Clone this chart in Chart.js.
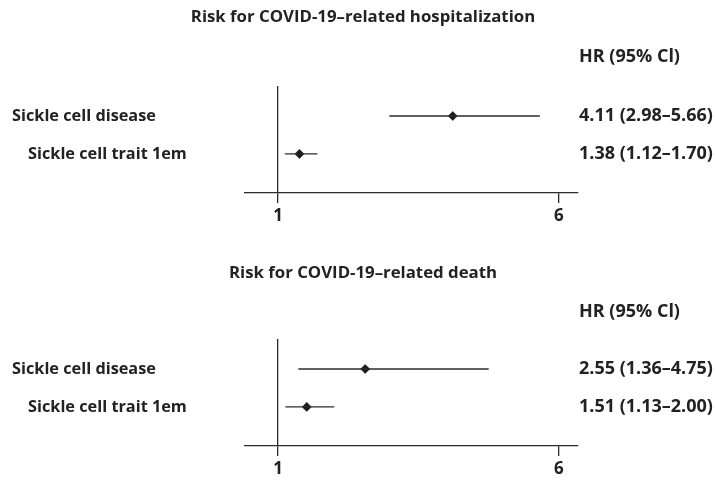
<!DOCTYPE html>
<html>
<head>
<meta charset="utf-8">
<script src="https://cdn.jsdelivr.net/npm/chart.js@4.4.1/dist/chart.umd.min.js"></script>
<style>
  html, body { margin: 0; padding: 0; background: #fff; }
  #wrap { position: relative; width: 715px; height: 480px; }
  .panel { position: absolute; left: 0; width: 715px; height: 227px; }
</style>
</head>
<body>
<div id="wrap">
  <div class="panel" style="top:0"><canvas id="hosp"></canvas></div>
  <div class="panel" style="top:253px"><canvas id="death"></canvas></div>
</div>
<script>
// rows shown in both panels
const rowLabels = ["Sickle cell disease", "Sickle cell trait 1em"];

// hospitalization
const hospHR = [4.11, 1.38];
const hospLow = [2.98, 1.12];
const hospHigh = [5.66, 1.70];

// death
const deathHR = [2.55, 1.51];
const deathLow = [1.36, 1.13];
const deathHigh = [4.75, 2.00];

const xTicks = [1, 6];
const headerText = "HR (95% Cl)";

const INK = "#222";
const LINE = "#2b2b2b";
const FAMILY = "'Open Sans', sans-serif";

Chart.defaults.font.family = FAMILY;
Chart.defaults.color = INK;

/* ===== text round the plot: title, row labels, HR column ===== */
const forestText = {
  id: "forestText",
  afterDraw(chart, args, opts) {
    const { ctx, chartArea, scales } = chart;
    ctx.save();
    ctx.fillStyle = INK;
    ctx.textBaseline = "middle";

    ctx.font = `bold 16.8px ${FAMILY}`;
    ctx.textAlign = "center";
    ctx.fillText(opts.title, 363, opts.titleY);

    ctx.textAlign = "left";
    ctx.font = `bold 18px ${FAMILY}`;
    ctx.fillText(headerText, opts.hrX, chartArea.top - opts.headerGap);
    opts.labels.forEach((lab, i) => {
      const y = scales.y.getPixelForValue(i);
      ctx.font = `bold 16.3px ${FAMILY}`;
      ctx.fillText(lab, opts.labelX[i], y);
      ctx.font = `bold 18px ${FAMILY}`;
      ctx.fillText(opts.hrText[i], opts.hrX, y);
    });
    ctx.restore();
  }
};

function makeForest(id, title, hr, lo, hi, titleY, headerGap) {
  const hrText = hr.map((v, i) => `${v.toFixed(2)} (${lo[i].toFixed(2)}–${hi[i].toFixed(2)})`);

  const ciSets = hr.map((_, i) => ({
    type: "line",
    data: [{ x: lo[i], y: i }, { x: hi[i], y: i }],
    borderColor: LINE,
    borderWidth: 1.3,
    pointRadius: 0
  }));

  return new Chart(document.getElementById(id), {
    type: "scatter",
    data: {
      datasets: [
        ...ciSets,
        {
          data: hr.map((v, i) => ({ x: v, y: i })),
          pointStyle: "rectRot",
          radius: 4.6,
          backgroundColor: "#1a1a1a",
          borderColor: "#1a1a1a",
          borderWidth: 0.5
        }
      ]
    },
    options: {
      responsive: true,
      maintainAspectRatio: false,
      animation: false,
      layout: { padding: { left: 245, right: 137, top: 86, bottom: 0 } },
      plugins: {
        legend: { display: false },
        tooltip: { enabled: false },
        title: { display: false },
        forestText: {
          title,
          titleY,
          labels: rowLabels,
          labelX: [12, 28],
          hrX: 579,
          hrText,
          headerGap
        }
      },
      scales: {
        x: {
          type: "linear",
          min: 0.41,
          max: 6.34,
          afterBuildTicks: s => { s.ticks = xTicks.map(v => ({ value: v })); },
          afterFit: s => { s.height = 34; },
          grid: {
            color: c => (c.tick && c.tick.value === 1 ? LINE : "rgba(0,0,0,0)"),
            lineWidth: 1.3,
            tickColor: LINE,
            tickLength: 10
          },
          border: { display: true, color: LINE, width: 1.3 },
          ticks: {
            font: { size: 17, weight: "bold" },
            color: INK,
            padding: 3,
            maxRotation: 0,
            autoSkip: false
          }
        },
        y: {
          type: "linear",
          display: false,
          reverse: true,
          min: -0.79,
          max: 2.03
        }
      }
    },
    plugins: [forestText]
  });
}

makeForest("hosp", "Risk for COVID-19–related hospitalization", hospHR, hospLow, hospHigh, 17, 29);
makeForest("death", "Risk for COVID-19–related death", deathHR, deathLow, deathHigh, 20, 27);
</script>
</body>
</html>
